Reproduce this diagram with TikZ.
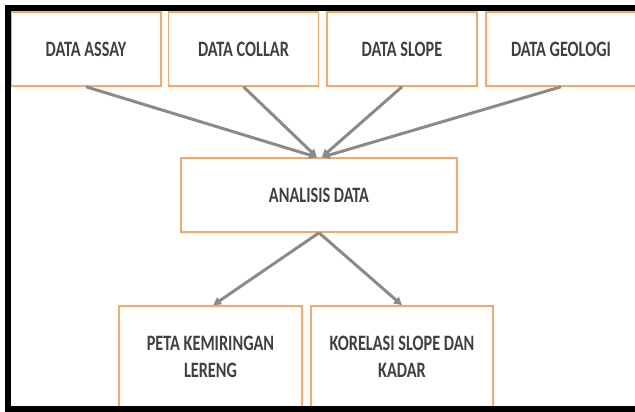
\documentclass[tikz,border=0pt]{standalone}
\usepackage{fontspec}
\setmainfont{Carlito}[FakeStretch=0.74]
\usetikzlibrary{arrows.meta}
\definecolor{garisoranye}{RGB}{246,168,104}
\definecolor{panahabu}{RGB}{138,138,138}
\definecolor{teksabu}{RGB}{64,64,64}
\begin{document}
\begin{tikzpicture}[x=0.02cm,y=-0.02cm]
        \tikzstyle{kotak}=[rectangle,draw=garisoranye,line width=0.9pt,fill=white,align=center,text=teksabu,font=\bfseries\fontsize{12.5}{15.3}\selectfont,inner sep=0pt]
        \tikzstyle{atas}=[kotak,minimum width=3cm,minimum height=1.48cm]
        \tikzstyle{bawah}=[kotak,minimum width=3.65cm,minimum height=2.04cm]
        \tikzstyle{panah}=[draw=panahabu,line width=1.7pt,-{Triangle[length=4.5pt,width=4.6pt]}]

        \clip (0,0) rectangle (635,412);
        \fill[white] (0,0) rectangle (635,412);

        \node [atas] (assay) at (86,49) {DATA ASSAY};
        \node [atas] (collar) at (243.5,49) {DATA COLLAR};
        \node [atas] (slope) at (402,49) {DATA SLOPE};
        \node [atas] (geologi) at (561,49) {DATA GEOLOGI};

        \node [kotak,minimum width=5.52cm,minimum height=1.48cm] (analisis) at (319,195) {ANALISIS DATA};

        \node [bawah] (peta) at (210.5,357) {PETA KEMIRINGAN\\LERENG};
        \node [bawah] (korelasi) at (402,357) {KORELASI SLOPE DAN\\KADAR};

        \draw[panah] (assay.south) -- ([xshift=-1.2pt]analisis.north);
        \draw[panah] (collar.south) -- ([xshift=-1.2pt]analisis.north);
        \draw[panah] (slope.south) -- ([xshift=1.6pt]analisis.north);
        \draw[panah] (geologi.south) -- ([xshift=1.6pt]analisis.north);

        \draw[panah] (analisis.south) -- ([xshift=1.5pt]peta.north);
        \draw[panah] (analisis.south) -- (korelasi.north);

        % bingkai hitam
        \draw[black,line width=3.4pt] (640,8) -- (8,8) -- (8,409) -- (640,409);
      \end{tikzpicture}
\end{document}
